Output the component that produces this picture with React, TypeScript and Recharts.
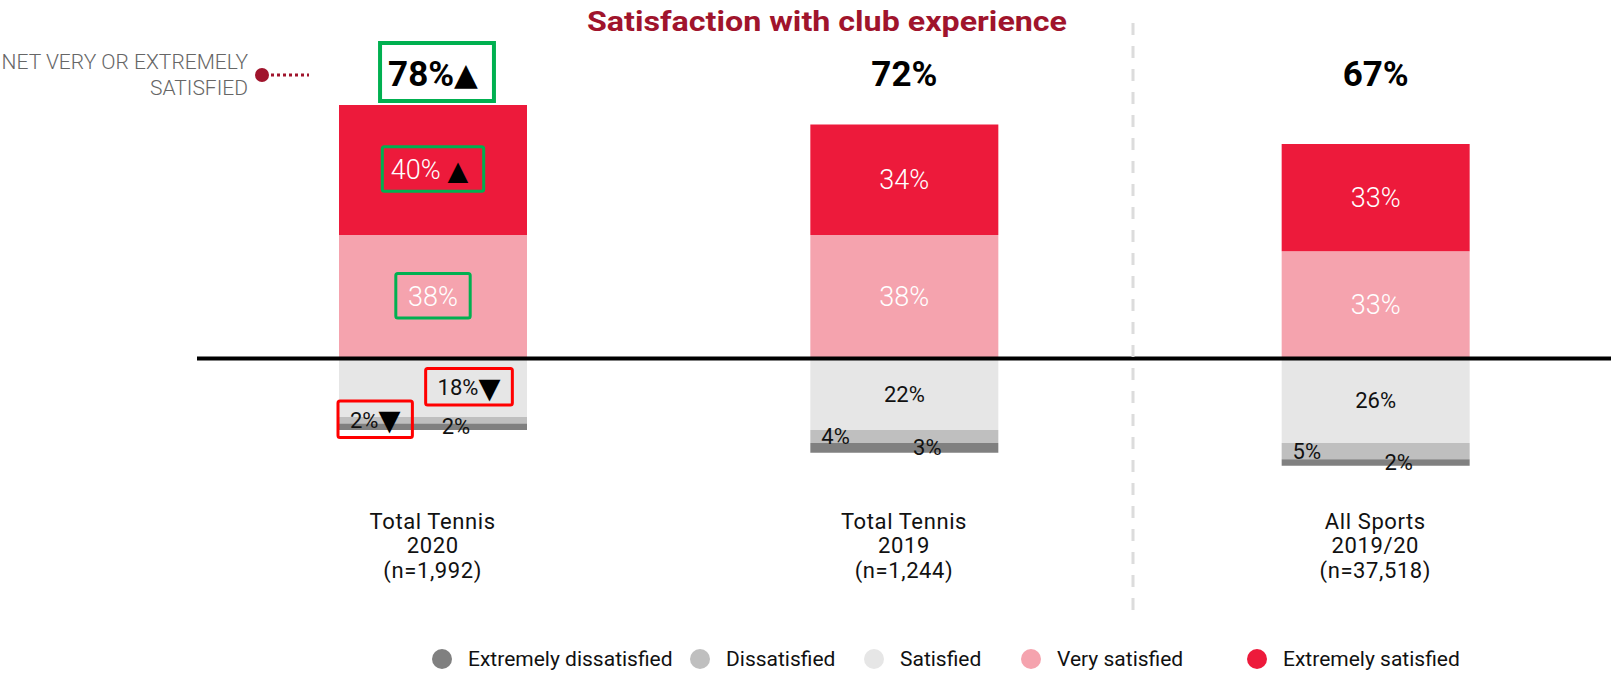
import React from 'react'
import { BarChart, Bar, XAxis, YAxis, ReferenceLine, LabelList } from 'recharts'

const categories = ['Total Tennis 2020', 'Total Tennis 2019', 'All Sports 2019/20']
const categoryLines = [
  ['Total Tennis', '2020', '(n=1,992)'],
  ['Total Tennis', '2019', '(n=1,244)'],
  ['All Sports', '2019/20', '(n=37,518)'],
]

const extremelySatisfied = [40, 34, 33]
const verySatisfied = [38, 38, 33]
const satisfied = [18, 22, 26]
const dissatisfied = [2, 4, 5]
const extremelyDissatisfied = [2, 3, 2]
const netSatisfied = [78, 72, 67]

// 'up' / 'down' = significant change (boxed + arrow), 'box' = boxed only
const netFlag = ['up', '', '']
const extremelySatisfiedFlag = ['up', '', '']
const verySatisfiedFlag = ['box', '', '']
const satisfiedFlag = ['down', '', '']
const dissatisfiedFlag = ['down', '', '']
const extremelyDissatisfiedFlag = ['', '', '']

const legendItems = [
  { name: 'Extremely dissatisfied', color: '#808080' },
  { name: 'Dissatisfied', color: '#bfbfbf' },
  { name: 'Satisfied', color: '#e6e6e6' },
  { name: 'Very satisfied', color: '#f5a3ae' },
  { name: 'Extremely satisfied', color: '#ed1a3b' },
]

const data = categories.map((name, i) => ({
  name,
  sat: -satisfied[i],
  dis: -dissatisfied[i],
  extDis: -extremelyDissatisfied[i],
  verySat: verySatisfied[i],
  extSat: extremelySatisfied[i],
  net: netSatisfied[i],
}))

const FONT = 'Roboto, "DejaVu Sans", sans-serif'
const GREEN = '#00b050'
const RED = '#ff0000'
const TITLE_RED = '#a0142c'
const ARROW_SCALE = 1.3

const charW = (c: string) => (c === '%' ? 0.82 : 0.56)
const textWidth = (t: string, fs: number) => t.split('').reduce((s, c) => s + charW(c) * fs, 0)

function box(p: any) {
  const vb = p.viewBox && p.viewBox.width != null ? p.viewBox : p
  const x = Math.min(vb.x, vb.x + vb.width)
  const y = Math.min(vb.y, vb.y + vb.height)
  return { x, y, w: Math.abs(vb.width), h: Math.abs(vb.height) }
}

type LabelOpts = {
  values: number[]
  flags: string[]
  fill: string
  fontSize: number
  fontWeight?: number
  pos: 'center' | 'left' | 'right'
}

function makeLabel(o: LabelOpts) {
  return (p: any) => {
    const i = p.index ?? 0
    const b = box(p)
    const flag = o.flags[i]
    const arrow = flag === 'up' ? '▲' : flag === 'down' ? '▼' : ''
    const txt = `${o.values[i]}%`
    const tw = textWidth(txt, o.fontSize) + (arrow ? 0.77 * o.fontSize * ARROW_SCALE : 0)
    const cy = b.y + b.h / 2
    let cx = b.x + b.w / 2
    if (o.pos === 'left') cx = b.x + 10 + tw / 2
    if (o.pos === 'right') cx = b.x + b.w / 2 + 23
    if (o.pos === 'center' && flag === 'down') cx += 36
    const bw = tw + 22
    const bh = o.fontSize * 1.65
    return (
      <g>
        {flag && (
          <rect
            x={cx - bw / 2}
            y={cy - bh / 2 - 1}
            width={bw}
            height={bh}
            fill="none"
            stroke={flag === 'down' ? RED : GREEN}
            strokeWidth={3}
            rx={2}
          />
        )}
        <text
          x={cx}
          y={cy}
          textAnchor="middle"
          dominantBaseline="central"
          fontFamily={FONT}
          fontSize={o.fontSize}
          fontWeight={o.fontWeight ?? 400}
          fill={o.fill}
        >
          {txt}
          {arrow && (
            <tspan fill="#000" fontFamily='"DejaVu Sans"' fontSize={o.fontSize * ARROW_SCALE}>
              {arrow}
            </tspan>
          )}
        </text>
      </g>
    )
  }
}

const NetLabel = (p: any) => {
  const i = p.index ?? 0
  const b = box(p)
  const flag = netFlag[i]
  const arrow = flag === 'up' ? '▲' : flag === 'down' ? '▼' : ''
  const txt = `${netSatisfied[i]}%`
  const cx = b.x + b.w / 2
  const cy = 74
  const tw = textWidth(txt, 35) + (arrow ? 24 : 0)
  const bw = tw + 22
  const bh = 58
  return (
    <g>
      {flag && (
        <rect x={cx - bw / 2 + 4} y={cy - bh / 2 - 2} width={bw} height={bh} fill="none" stroke={GREEN} strokeWidth={4} />
      )}
      <text x={cx} y={cy} textAnchor="middle" dominantBaseline="central" fontFamily={FONT} fontSize={35} fontWeight={700} fill="#000">
        {txt}
        {arrow && <tspan fontFamily='"DejaVu Sans"' fontSize={31}>{arrow}</tspan>}
      </text>
    </g>
  )
}

const CategoryTick = (p: any) => {
  const i = p.index ?? categories.indexOf(p.payload?.value)
  const lines = categoryLines[i] || []
  return (
    <g>
      {lines.map((l, k) => (
        <text key={k} x={p.x} y={521 + k * 24.5} textAnchor="middle" dominantBaseline="central" fontFamily={FONT} fontSize={22} letterSpacing={0.6} fill="#111">
          {l}
        </text>
      ))}
    </g>
  )
}

const legendX = [442, 700, 874, 1031, 1257]

export default function App() {
  return (
    <div style={{ position: 'absolute', left: 0, top: 0, width: 1611, height: 674, background: '#fff', overflow: 'hidden' }}>
      <BarChart
        width={1611}
        height={674}
        data={data}
        stackOffset="sign"
        margin={{ top: 66, right: 0, bottom: 123, left: 197 }}
        barSize={188}
      >
        <XAxis dataKey="name" axisLine={false} tickLine={false} height={30} interval={0} tick={<CategoryTick />} />
        <YAxis hide domain={[-50, 90]} />
        <Bar dataKey="sat" stackId="s" fill="#e6e6e6" isAnimationActive={false}>
          <LabelList dataKey="sat" content={makeLabel({ values: satisfied, flags: satisfiedFlag, fill: '#111', fontSize: 22, pos: 'center' })} />
        </Bar>
        <Bar dataKey="dis" stackId="s" fill="#bfbfbf" isAnimationActive={false}>
          <LabelList dataKey="dis" content={makeLabel({ values: dissatisfied, flags: dissatisfiedFlag, fill: '#111', fontSize: 22, pos: 'left' })} />
        </Bar>
        <Bar dataKey="extDis" stackId="s" fill="#808080" isAnimationActive={false}>
          <LabelList dataKey="extDis" content={makeLabel({ values: extremelyDissatisfied, flags: extremelyDissatisfiedFlag, fill: '#111', fontSize: 22, pos: 'right' })} />
        </Bar>
        <Bar dataKey="verySat" stackId="s" fill="#f5a3ae" isAnimationActive={false}>
          <LabelList dataKey="verySat" content={makeLabel({ values: verySatisfied, flags: verySatisfiedFlag, fill: '#fff', fontSize: 27, fontWeight: 300, pos: 'center' })} />
        </Bar>
        <Bar dataKey="extSat" stackId="s" fill="#ed1a3b" isAnimationActive={false}>
          <LabelList dataKey="extSat" content={makeLabel({ values: extremelySatisfied, flags: extremelySatisfiedFlag, fill: '#fff', fontSize: 27, fontWeight: 300, pos: 'center' })} />
          <LabelList dataKey="net" content={NetLabel} />
        </Bar>
        <ReferenceLine y={0} stroke="#000" strokeWidth={4} ifOverflow="extendDomain" />
      </BarChart>

      <svg width={1611} height={674} style={{ position: 'absolute', left: 0, top: 0, pointerEvents: 'none' }}>
        <text x={827} y={21} textAnchor="middle" dominantBaseline="central" fontFamily={FONT} fontWeight={700} fontSize={28} fill={TITLE_RED} textLength={480} lengthAdjust="spacingAndGlyphs">
          Satisfaction with club experience
        </text>
        <line x1={1133} y1={23} x2={1133} y2={610} stroke="#dcdcdc" strokeWidth={3} strokeDasharray="12 11" />
        <text x={248} y={62} textAnchor="end" dominantBaseline="central" fontFamily={FONT} fontSize={21} fontWeight={300} fill="#666">
          NET VERY OR EXTREMELY
        </text>
        <text x={248} y={88} textAnchor="end" dominantBaseline="central" fontFamily={FONT} fontSize={21} fontWeight={300} fill="#666">
          SATISFIED
        </text>
        <circle cx={262} cy={75} r={7} fill={TITLE_RED} />
        <line x1={271} y1={75} x2={309} y2={75} stroke={TITLE_RED} strokeWidth={3} strokeDasharray="3 3" />
        {legendItems.map((it, k) => (
          <g key={it.name}>
            <circle cx={legendX[k]} cy={659} r={10} fill={it.color} />
            <text x={legendX[k] + 26} y={659} dominantBaseline="central" fontFamily={FONT} fontSize={21} fill="#111">
              {it.name}
            </text>
          </g>
        ))}
      </svg>
    </div>
  )
}
